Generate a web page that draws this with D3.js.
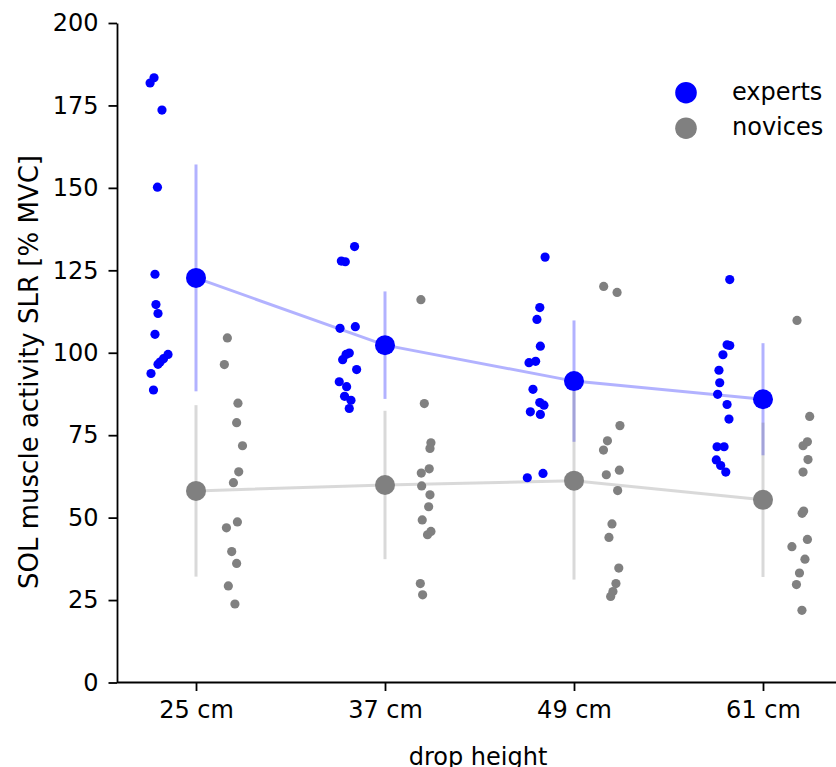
<!DOCTYPE html>
<html>
<head>
<meta charset="utf-8">
<script src="https://cdn.jsdelivr.net/npm/d3@7"></script>
<style>
  body { margin: 0; background: #fff; }
  svg, svg text { font-family: "DejaVu Sans", sans-serif; }
  .axis text { font-size: 24px; fill: #000; font-family: "DejaVu Sans", sans-serif; }
  .axis path, .axis line { stroke: #000; stroke-width: 1.8; }
</style>
</head>
<body>
<svg width="836" height="767"></svg>
<script>
// categories and tick labels
const heights = ["25 cm", "37 cm", "49 cm", "61 cm"]
const yTicks = [0, 25, 50, 75, 100, 125, 150, 175, 200]

// group means and standard deviations
const expertMean = [122.7, 102.3, 91.4, 85.9]
const expertSd = [34.4, 16.3, 18.4, 17.0]
const noviceMean = [58.1, 59.9, 61.2, 55.4]
const noviceSd = [26.0, 22.5, 30.0, 23.4]

// individual subjects per drop height
const experts25 = [183.4, 181.8, 173.6, 150.2, 123.8, 114.6, 111.9, 105.6, 99.5, 98.2, 97.2, 96.5, 93.7, 88.7]
const experts37 = [132.2, 127.8, 127.6, 107.4, 107.9, 99.9, 99.5, 97.9, 94.9, 91.2, 89.7, 86.8, 85.6, 83.1]
const experts49 = [129.0, 113.7, 110.1, 102.0, 97.4, 97.0, 88.9, 84.9, 84.1, 82.1, 81.3, 63.4, 62.1]
const experts61 = [122.2, 102.4, 102.2, 99.4, 94.7, 90.9, 87.4, 84.3, 79.9, 71.5, 71.5, 67.5, 65.8, 63.8]
const novices25 = [104.5, 96.4, 84.7, 78.8, 71.8, 63.9, 60.6, 48.7, 46.9, 39.7, 36.1, 29.3, 23.8]
const novices37 = [116.1, 84.6, 72.7, 71.0, 64.8, 63.5, 59.6, 56.9, 53.3, 49.3, 45.8, 44.8, 30.0, 26.6]
const novices49 = [120.1, 118.3, 77.9, 73.3, 70.5, 64.4, 63.0, 58.2, 48.1, 44.0, 34.7, 30.0, 27.6, 26.1]
const novices61 = [109.8, 80.7, 73.0, 71.8, 67.6, 63.8, 52.0, 51.3, 43.4, 41.2, 37.4, 33.2, 29.7, 21.9]

// strip jitter, in percent of the category step
const jitE25 = [-22.2, -24.3, -18.0, -20.4, -21.7, -21.2, -20.1, -21.7, -14.8, -17.2, -19.0, -20.1, -23.8, -22.5]
const jitE37 = [-16.1, -23.1, -21.0, -23.8, -15.7, -18.9, -20.6, -22.4, -15.0, -24.2, -20.3, -21.4, -18.0, -18.9]
const jitE49 = [-15.3, -18.1, -19.6, -17.8, -20.3, -23.8, -21.7, -18.1, -15.9, -23.1, -17.8, -16.4, -24.7]
const jitE61 = [-17.6, -19.0, -17.6, -21.2, -23.3, -22.9, -24.0, -19.0, -18.0, -24.3, -20.6, -24.7, -22.4, -19.7]
const jitN25 = [16.6, 15.0, 22.2, 21.5, 24.6, 22.6, 19.8, 21.9, 16.1, 18.9, 21.5, 17.1, 20.6]
const jitN37 = [19.0, 20.8, 24.3, 23.8, 23.4, 19.2, 19.4, 23.8, 23.1, 19.7, 24.3, 22.5, 18.7, 19.9]
const jitN49 = [15.7, 22.8, 24.3, 17.7, 15.6, 24.0, 17.1, 23.1, 20.1, 18.5, 23.7, 22.2, 20.6, 19.4]
const jitN61 = [18.0, 24.7, 23.5, 21.2, 23.8, 21.2, 21.5, 20.7, 23.5, 15.3, 22.2, 19.3, 17.7, 20.6]

const expertPts = [experts25, experts37, experts49, experts61]
const novicePts = [novices25, novices37, novices49, novices61]
const expertJit = [jitE25, jitE37, jitE49, jitE61]
const noviceJit = [jitN25, jitN37, jitN49, jitN61]

const BLUE = "#0000ff"
const GREY = "#808080"

const svg = d3.select("svg")

const x = d3.scalePoint()
    .domain(heights)
    .range([117, 842])
    .padding(0.418)

const y = d3.scaleLinear()
    .domain([0, 200])
    .range([682.5, 23])

// axes
svg.append("g")
    .attr("class", "axis")
    .attr("transform", "translate(117,0)")
    .call(d3.axisLeft(y).tickValues(yTicks).tickSize(8.5).tickPadding(10).tickSizeOuter(0))

svg.append("g")
    .attr("class", "axis")
    .attr("transform", `translate(0,${y(0)})`)
    .call(d3.axisBottom(x).tickSize(8.5).tickPadding(10).tickSizeOuter(0))
    .call(g => g.select(".domain").attr("d", `M117,0H842`))

svg.append("text")
    .attr("transform", "translate(38,372) rotate(-90)")
    .attr("text-anchor", "middle")
    .style("font-size", "26px")
    .text("SOL muscle activity SLR [% MVC]")

svg.append("text")
    .attr("x", 478)
    .attr("y", 765)
    .attr("text-anchor", "middle")
    .style("font-size", "24px")
    .text("drop height")

const groups = [
    { name: "experts", color: BLUE, mean: expertMean, sd: expertSd, pts: expertPts, jit: expertJit },
    { name: "novices", color: GREY, mean: noviceMean, sd: noviceSd, pts: novicePts, jit: noviceJit }
]

const line = d3.line()
    .x((d, i) => x(heights[i]))
    .y(d => y(d))

// error bars and mean lines (translucent)
groups.forEach(g => {
    svg.append("g")
        .selectAll("line")
        .data(g.mean)
        .enter()
        .append("line")
        .attr("x1", (d, i) => x(heights[i]))
        .attr("x2", (d, i) => x(heights[i]))
        .attr("y1", (d, i) => y(d + g.sd[i]))
        .attr("y2", (d, i) => y(d - g.sd[i]))
        .attr("stroke", g.color)
        .attr("stroke-opacity", 0.3)
        .attr("stroke-width", 3)

    svg.append("path")
        .datum(g.mean)
        .attr("d", line)
        .attr("fill", "none")
        .attr("stroke", g.color)
        .attr("stroke-opacity", 0.3)
        .attr("stroke-width", 3)
})

// individual points
groups.forEach(g => {
    const cat = svg.append("g")
        .selectAll("g")
        .data(g.pts)
        .enter()
        .append("g")

    cat.selectAll("circle")
        .data((d, ci) => d.map((v, k) => ({ v: v, c: ci, j: g.jit[ci][k] })))
        .enter()
        .append("circle")
        .attr("cx", d => x(heights[d.c]) + d.j / 100 * x.step())
        .attr("cy", d => y(d.v))
        .attr("r", 4.6)
        .attr("fill", g.color)
})

// mean markers
groups.forEach(g => {
    svg.append("g")
        .selectAll("circle")
        .data(g.mean)
        .enter()
        .append("circle")
        .attr("cx", (d, i) => x(heights[i]))
        .attr("cy", d => y(d))
        .attr("r", 10)
        .attr("fill", g.color)
})

// legend
const legend = svg.append("g")
    .selectAll("g")
    .data(groups)
    .enter()
    .append("g")
    .attr("transform", (d, i) => `translate(686,${92.7 + i * 35.5})`)

legend.append("circle")
    .attr("r", 10.8)
    .attr("fill", d => d.color)

legend.append("text")
    .attr("x", 46)
    .attr("y", 6.8)
    .style("font-size", "24px")
    .text(d => d.name)
</script>
</body>
</html>
